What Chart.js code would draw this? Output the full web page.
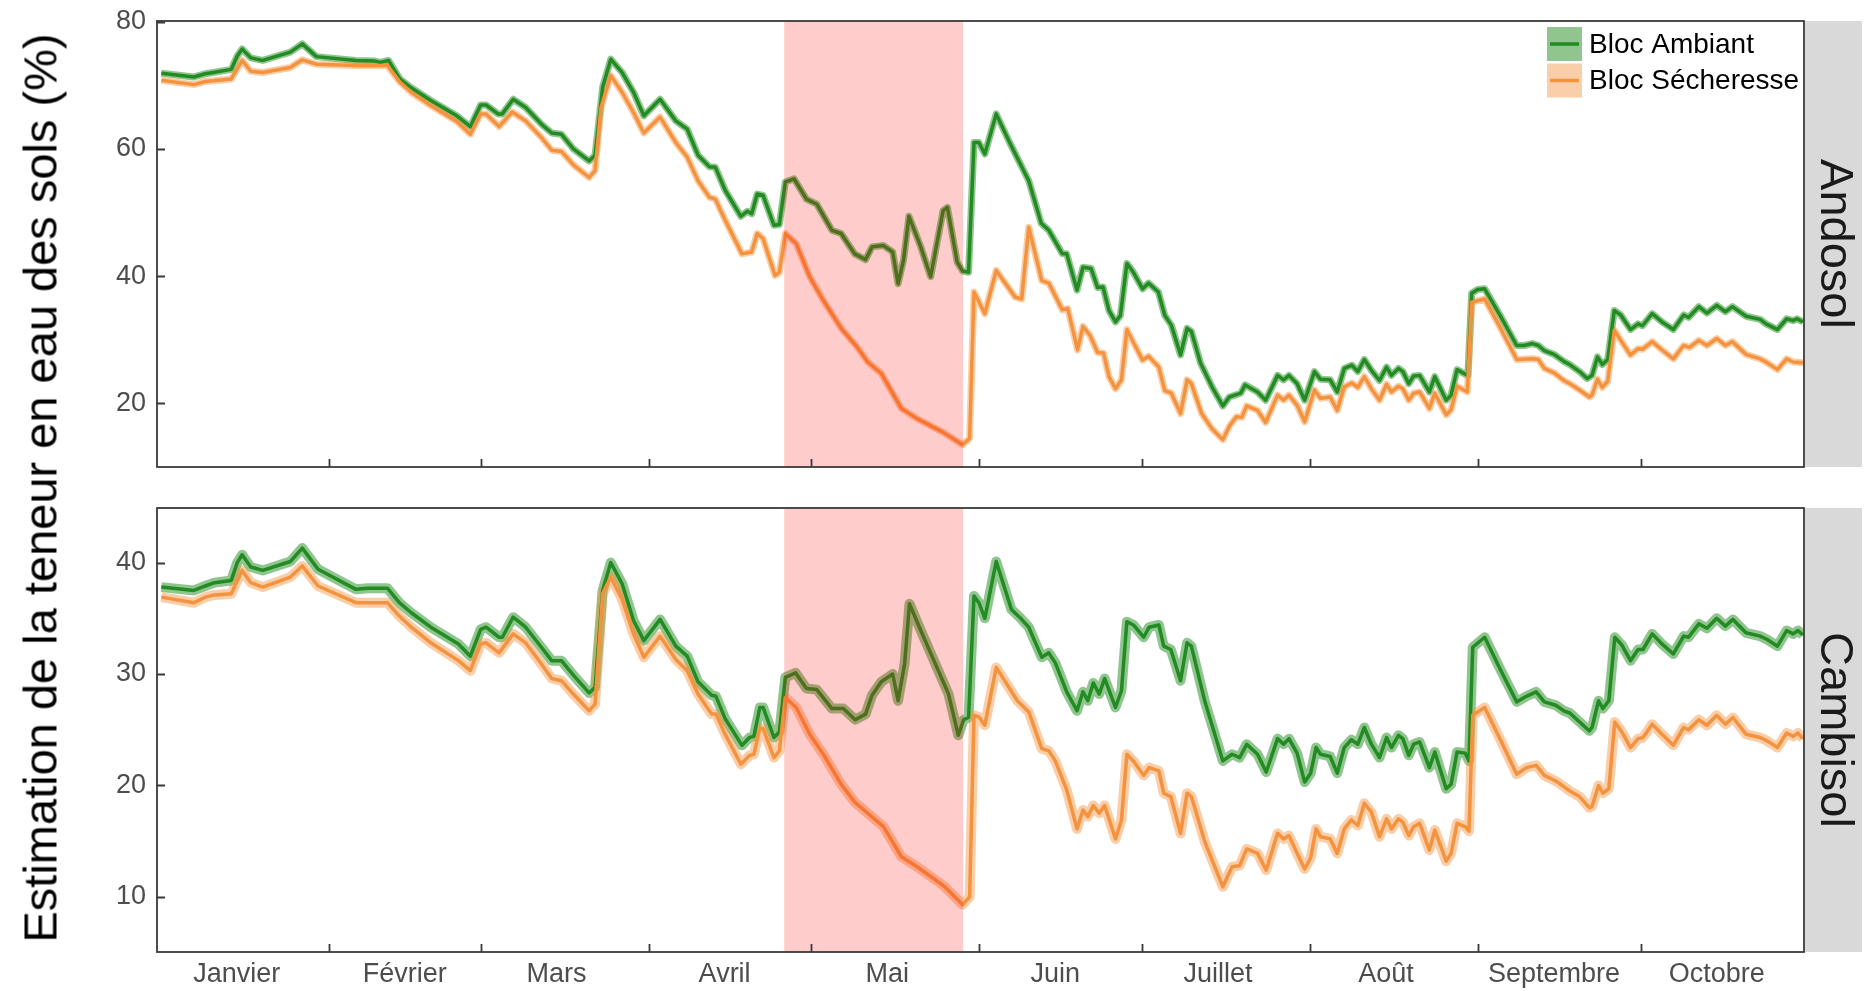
<!DOCTYPE html>
<html>
<head>
<meta charset="utf-8">
<script src="https://cdn.jsdelivr.net/npm/chart.js@4.4.0/dist/chart.umd.min.js"></script>
<style>
  html, body { margin: 0; padding: 0; background: #fff; }
  #wrap { position: relative; width: 1865px; height: 991px; overflow: hidden; }
  #cTop { position: absolute; left: 0; top: 0; }
  #cBot { position: absolute; left: 0; top: 480px; }
  #ytitle {
    position: absolute; left: 40px; top: 488px;
    transform: translate(-50%, -50%) rotate(-90deg);
    white-space: nowrap; line-height: 1;
    font: 47px 'Liberation Sans', Arial, sans-serif; color: #000;
  }
</style>
</head>
<body>
<div id="wrap">
  <canvas id="cTop" width="1865" height="480"></canvas>
  <canvas id="cBot" width="1865" height="511"></canvas>
  <div id="ytitle">Estimation de la teneur en eau des sols (%)</div>
</div>
<script>
// day of year (0 = 1er janvier), value in %
const monthNames = ['Janvier', 'Février', 'Mars', 'Avril', 'Mai', 'Juin', 'Juillet', 'Août', 'Septembre', 'Octobre'];
const monthStarts = [0, 31, 59, 90, 120, 151, 181, 212, 243, 273];
const droughtWindow = [115, 148];
const andosolTicks = [20, 40, 60, 80];
const cambisolTicks = [10, 20, 30, 40];

const andosolAmbiant = [
  [0.1,71.9],[6.1,71.3],[8.2,71.8],[9.7,72.0],[13,72.5],[14.1,74.6],[15,75.7],[16.6,74.3],[18.8,73.9],[23.9,75.2],
  [26.1,76.5],[28.7,74.5],[36,73.9],[39.5,73.8],[40.5,73.6],[42,73.9],[44.1,71.0],[46.2,69.6],[49.8,67.6],[54.6,65.2],
  [57.1,63.5],[59,66.9],[60,66.9],[62.2,65.5],[63,65.5],[65,67.8],[67.3,66.5],[70.2,63.9],[72.1,62.5],[73.9,62.3],
  [76.1,60.0],[79,58.1],[80.1,59.0],[81.5,69.7],[83,74.1],[85.1,72.0],[87.2,68.9],[89.1,65.2],[92.1,67.8],[95,64.4],
  [97.1,63.1],[99.1,59.0],[101.2,57.2],[102.3,57.1],[104.1,53.5],[107,49.4],[108.2,50.2],[109,49.8],[110,52.9],[111.1,52.7],
  [113.1,48.0],[114.1,48.1],[115.2,54.8],[116.8,55.3],[119.1,52.1],[121,51.3],[123.8,47.2],[125.5,46.7],[128,43.5],[130,42.6],
  [131.2,44.6],[133.3,44.8],[135,43.8],[136,38.8],[137,42.5],[138,49.4],[140.1,44.8],[142,39.9],[144.3,50.3],[145.1,50.8],
  [146.9,42.2],[147.9,40.8],[149,40.6],[150,61.0],[150.9,61.0],[152,59.2],[154.1,65.5],[156.4,61.3],[160.1,55.0],[162.4,48.3],
  [163.8,47.2],[166.3,43.5],[167.1,43.5],[169,37.8],[170.1,41.4],[171.6,41.2],[172.8,38.2],[173.8,38.3],[174.9,34.6],[176.1,32.8],
  [177,33.8],[178.2,42.0],[179.4,40.6],[181.1,38.0],[182.2,38.9],[184,37.5],[185.2,33.8],[186.4,32.3],[188.1,27.6],[189.3,31.8],
  [190.1,31.3],[191.8,26.3],[193.9,22.6],[195.9,19.6],[197.1,21.0],[199.2,21.6],[200,22.9],[202.3,21.8],[203.8,20.5],[206,24.4],
  [207.1,23.7],[208.1,24.4],[209.6,23.1],[211,20.5],[212.8,25.0],[213.9,23.8],[215.7,23.7],[217,21.8],[218.3,25.5],[219.7,26.0],
  [220.8,25.0],[222,26.9],[223.3,25.2],[224.8,23.6],[226.1,25.7],[227,24.4],[228.3,25.5],[229.1,25.0],[230.2,23.1],[231.1,24.3],
  [232.2,24.4],[234,21.8],[235,24.2],[237.1,20.5],[238,21.3],[239.1,25.3],[240.6,24.6],[241.1,24.4],[241.8,37.3],[242.9,37.9],
  [244.2,38.0],[247.2,33.6],[250.1,29.1],[251.5,29.1],[253,29.4],[254.1,29.1],[255.2,28.3],[257,27.7],[258.8,26.6],[259.9,26.1],
  [261.7,25.0],[263.1,23.9],[264,24.4],[265,27.3],[265.9,26.1],[266.9,26.9],[268.1,34.6],[269.3,33.9],[271.1,31.6],[272.5,32.5],
  [273.3,32.2],[275.1,34.1],[276.9,32.8],[279,31.6],[280.9,33.9],[281.8,33.5],[283.7,35.2],[285.2,34.2],[287,35.4],[288.6,34.4],
  [289.9,35.2],[292.4,33.7],[295,33.2],[296.1,32.5],[298.2,31.6],[299.9,33.3],[301.1,33.0],[301.8,33.3],[302.9,32.8]
];

const andosolSecheresse = [
  [0.1,70.8],[6.1,70.1],[8.2,70.6],[9.7,70.7],[13,71.0],[15,73.9],[16.6,72.2],[18.8,72.0],[23.9,72.8],[26.1,74.0],
  [28.7,73.3],[36,73.1],[41.8,73.1],[44.1,70.5],[46.2,68.9],[49.8,66.8],[54.6,64.3],[57.1,62.3],[59,65.5],[60,65.5],
  [62.4,63.5],[64.8,65.8],[67.3,64.4],[70.2,61.8],[72.1,59.8],[73.9,59.6],[76.1,57.5],[79,55.5],[80.1,56.6],[81.2,66.5],
  [83,71.5],[85.1,68.9],[87.2,65.7],[89.1,62.5],[92.1,65.0],[95,61.0],[97.1,58.7],[99.1,55.0],[101.2,52.4],[102.3,52.1],
  [104.1,48.8],[107.2,43.5],[109,43.8],[110,46.7],[111.1,45.9],[113.3,40.1],[114.1,40.6],[115.2,46.7],[117.2,45.1],[119.7,39.9],
  [122.2,36.2],[125.5,31.8],[128.4,28.9],[130.4,26.5],[132.9,24.7],[136.6,19.2],[139.5,17.6],[144.4,15.4],[147.9,13.5],[149.2,14.5],
  [150,37.5],[152,34.1],[154.1,40.9],[157.6,36.7],[158.8,36.4],[160.1,47.7],[162.5,39.3],[163.8,38.9],[166.3,34.7],[167.3,34.9],
  [169.1,28.4],[170.1,32.1],[171.4,30.7],[172.8,28.0],[173.9,27.9],[174.9,24.2],[176.1,22.3],[177.2,23.7],[178.2,31.6],[179.7,29.1],
  [181.1,26.8],[182.2,27.4],[184.1,25.7],[185.2,22.0],[186.4,21.6],[188.1,18.4],[189.3,23.7],[190.1,23.1],[192,18.4],[193.9,16.0],
  [195.9,14.3],[197.1,16.4],[198.4,17.9],[199.4,17.8],[200.3,19.6],[202.3,18.9],[203.8,17.0],[206,21.3],[207.1,20.5],[208.1,21.3],
  [209.6,19.7],[211,17.1],[212.8,22.1],[213.9,20.8],[215.7,21.0],[217,18.9],[218.3,22.6],[219.7,23.2],[220.8,22.5],[222,24.2],
  [223.3,22.3],[224.8,20.5],[226.1,23.0],[227,21.8],[228.3,22.7],[229.1,22.3],[230.2,20.5],[231.1,21.6],[232.2,21.8],[234,19.2],
  [235,21.6],[237.1,18.2],[238,19.0],[239.1,22.7],[241,21.8],[241.8,35.9],[244.2,36.4],[247.2,31.7],[250.1,26.9],[253,27.0],
  [254.1,26.9],[255.2,25.5],[257,24.8],[258.8,23.6],[259.9,23.1],[261.7,22.1],[263.5,21.0],[264,21.3],[265,23.8],[265.9,22.5],
  [266.9,23.5],[268.1,31.5],[269.3,29.9],[271.1,27.6],[272.5,28.6],[273.3,28.5],[275.1,29.7],[276.9,28.4],[279,27.0],[280.9,29.1],
  [282,28.8],[283.7,29.9],[285.2,29.1],[287,30.2],[288.6,29.1],[289.9,29.7],[292.4,27.7],[295,27.0],[296.1,26.5],[298.2,25.3],
  [299.9,27.0],[301.1,26.5],[302.9,26.4]
];

const cambisolAmbiant = [
  [0.1,37.8],[6.1,37.5],[8.2,37.9],[9.9,38.2],[13,38.4],[14.1,40.0],[15,40.7],[16.6,39.6],[18.8,39.3],[23.9,40.1],
  [26.1,41.3],[29,39.4],[36,37.6],[38.2,37.7],[41.8,37.7],[44,36.4],[46.2,35.5],[49.8,34.2],[54.9,32.7],[57.1,31.6],
  [59,34.0],[60,34.2],[62.4,33.3],[63,33.3],[65,35.1],[67.3,34.2],[70.2,32.4],[72.1,31.2],[73.9,31.2],[76.1,29.9],
  [79,28.3],[80.1,28.8],[81.5,37.5],[83,40.0],[85.1,38.1],[87.2,34.8],[89.1,33.0],[92.1,34.9],[95,32.5],[97.1,31.6],
  [99.1,29.3],[101.6,28.1],[102.4,28.0],[104.1,26.0],[107.2,23.6],[108.6,24.3],[109.4,24.4],[110.5,27.0],[111.1,27.0],[113.1,24.3],
  [114.1,24.8],[115.2,29.7],[117.1,30.1],[119.1,28.7],[121,28.6],[123.8,26.9],[125.9,26.9],[128.1,25.9],[130,26.4],[131.2,28.1],
  [132.9,29.3],[135,30.0],[136,27.6],[137.2,30.9],[138.1,36.3],[140.1,34.0],[141.8,32.1],[143.6,30.1],[145.3,28.2],[147.1,24.5],
  [148.1,25.9],[149,26.1],[150,37.0],[150.9,36.4],[152,35.0],[154.1,40.1],[156.9,35.8],[158.4,35.1],[160.1,34.2],[162.5,31.5],
  [163.8,31.9],[165,31.0],[167.1,28.4],[169,26.7],[170.1,28.4],[171,27.6],[172,29.2],[173.1,28.2],[174.1,29.6],[176.1,27.0],
  [177.2,28.5],[178.2,34.7],[179.4,34.4],[181.3,33.3],[182.3,34.2],[184.1,34.4],[185,32.5],[186.3,32.2],[188.1,29.4],[189.3,32.8],
  [190.1,32.5],[192.6,27.5],[195.9,22.2],[197.6,22.8],[199,22.5],[200.3,23.7],[202.3,22.8],[203.9,21.2],[206,24.2],[207.1,23.7],
  [208.1,24.2],[209.6,22.9],[211,20.3],[212.1,21.1],[213.1,23.4],[213.9,22.8],[215.7,22.6],[217,21.1],[218.3,23.4],[219.6,24.1],
  [220.8,23.7],[222,25.2],[223.3,23.7],[224.8,22.5],[226.1,24.3],[227,23.4],[228.3,24.5],[229.1,24.2],[230.2,22.7],[231.1,23.7],
  [232.2,23.9],[234,21.6],[235,23.0],[237.1,19.7],[238,20.1],[239.1,23.0],[240.6,22.9],[241.3,22.2],[242,32.4],[244.2,33.3],
  [247.2,30.3],[250.1,27.5],[251.9,28.0],[253.7,28.4],[255.2,27.5],[257.3,27.2],[258.8,26.7],[259.9,26.5],[261.7,25.7],[263.5,24.9],
  [264,25.2],[265.2,27.6],[266,26.9],[267.1,27.6],[268.2,33.3],[269.5,32.6],[271.1,31.2],[272.5,32.2],[273.4,32.2],[275.1,33.6],
  [276.9,32.7],[279,31.8],[280.9,33.4],[281.8,33.3],[283.7,34.5],[285.2,34.1],[287,35.0],[288.6,34.3],[290,34.9],[292.4,33.7],
  [295,33.4],[296.3,33.1],[298.2,32.5],[299.9,33.9],[301.1,33.6],[302,33.9],[302.9,33.5]
];

const cambisolSecheresse = [
  [0.1,36.9],[6.1,36.4],[8.2,36.9],[9.9,37.1],[13,37.2],[15,39.3],[16.6,38.2],[18.8,37.8],[23.9,38.7],[26.1,39.7],
  [29,37.9],[36,36.4],[38.2,36.4],[41.8,36.4],[44,35.2],[46.2,34.2],[49.8,32.8],[54.9,31.2],[57.1,30.3],[59,32.7],
  [60,32.8],[62.4,31.9],[65,33.6],[67.3,32.8],[70.2,30.9],[72.1,29.6],[73.9,29.4],[76.1,28.2],[79,26.7],[80.1,27.3],
  [81.5,37.2],[83,38.7],[85.1,36.7],[87.2,33.6],[89.1,31.5],[92.1,33.4],[95,31.3],[97.1,30.3],[99.1,28.2],[101.6,26.4],
  [102.4,26.4],[104.1,24.6],[107,21.9],[108.6,22.7],[109.4,22.8],[110.5,25.1],[111.1,25.1],[113.1,22.5],[114.1,23.1],[115.2,27.9],
  [117.2,27.0],[119.7,24.6],[122.2,22.8],[125.5,20.1],[128,18.5],[130.4,17.5],[133.3,16.3],[136.6,13.6],[139.5,12.7],[144.4,11.0],
  [147.9,9.3],[149.2,10.0],[150,26.3],[151,26.1],[152,25.4],[154.1,30.6],[158,27.6],[160.1,26.6],[162.5,23.3],[163.8,23.1],
  [165,22.2],[167.1,19.6],[169,16.1],[170.1,17.8],[171,17.2],[172,18.2],[173.1,17.5],[174.1,18.2],[176.1,15.2],[177.2,16.9],
  [178.2,22.8],[179.4,22.2],[181.3,20.9],[182.3,21.6],[184.1,21.3],[185,19.3],[186.3,19.0],[188.1,15.7],[189.3,19.3],[190.1,19.0],
  [192.6,14.9],[195.9,10.9],[197.6,12.7],[199,12.8],[200.3,14.3],[202.3,13.9],[203.9,12.4],[206,15.7],[207.1,15.2],[208.1,15.5],
  [209.6,13.9],[211,12.5],[212.1,13.5],[213.1,16.1],[213.9,15.4],[215.7,15.2],[217,13.9],[218.3,16.1],[219.6,16.9],[220.8,16.4],
  [222,18.4],[223.3,17.6],[224.8,15.4],[226.1,17.0],[227,16.1],[228.3,17.0],[229.1,16.7],[230.2,15.5],[231.1,16.3],[232.2,16.6],
  [234,14.2],[235,16.0],[237.1,13.2],[238,13.9],[239.1,16.6],[240.6,16.3],[241.3,15.9],[242,26.3],[244.2,27.0],[247.2,24.0],
  [250.1,21.0],[251.9,21.6],[253.7,21.8],[255.2,20.9],[257.3,20.4],[258.8,19.9],[259.9,19.5],[261.7,19.0],[263.5,18.0],[264,18.1],
  [265.2,20.0],[266,19.3],[267.1,19.7],[268.2,25.7],[269.5,24.8],[271.1,23.4],[272.5,24.2],[273.4,24.3],[275.1,25.5],[276.9,24.6],
  [279,23.6],[280.9,25.2],[281.8,25.0],[283.7,25.9],[285.2,25.4],[287,26.3],[288.6,25.5],[290,26.1],[292.4,24.6],[295,24.3],
  [296.3,24.0],[298.2,23.4],[299.9,24.7],[301.1,24.4],[302,24.7],[302.9,24.2]
];

const GREEN = '#228B22';
const GREEN_BAND = 'rgba(34,139,34,0.5)';
const ORANGE = '#F5923E';
const ORANGE_BAND = 'rgba(245,146,62,0.45)';
const FONT = "'Liberation Sans', Arial, sans-serif";

Chart.defaults.font.family = FONT;
Chart.defaults.animation = false;

const toXY = (arr) => arr.map(p => ({ x: p[0], y: p[1] }));

// draws the drought window, inward ticks, panel frame, strip and legend
const panelDecor = {
  id: 'panelDecor',
  afterDatasetsDraw(chart, args, opts) {
    const { ctx, chartArea: a } = chart;
    const x = chart.scales.x, y = chart.scales.y;
    ctx.save();

    const x0 = x.getPixelForValue(droughtWindow[0]);
    const x1 = x.getPixelForValue(droughtWindow[1]);
    ctx.fillStyle = 'rgba(255,0,0,0.2)';
    ctx.fillRect(x0, a.top, x1 - x0, a.bottom - a.top);

    ctx.strokeStyle = '#3a3a3a';
    ctx.lineWidth = 1.8;
    ctx.beginPath();
    monthStarts.slice(1).forEach(d => {
      const px = Math.round(x.getPixelForValue(d)) + 0.5;
      ctx.moveTo(px, a.bottom);
      ctx.lineTo(px, a.bottom - 8);
    });
    opts.yTicks.forEach(v => {
      const py = Math.round(y.getPixelForValue(v)) + 0.5;
      ctx.moveTo(a.left, py);
      ctx.lineTo(a.left + 8, py);
    });
    ctx.stroke();
    ctx.strokeRect(a.left, a.top, a.right - a.left, a.bottom - a.top);

    // facet strip
    ctx.fillStyle = '#D9D9D9';
    ctx.fillRect(a.right + 1, a.top, 57, a.bottom - a.top);
    ctx.fillStyle = '#1A1A1A';
    ctx.font = '47px ' + FONT;
    ctx.textAlign = 'center';
    ctx.textBaseline = 'middle';
    ctx.translate(a.right + 30, (a.top + a.bottom) / 2);
    ctx.rotate(Math.PI / 2);
    ctx.fillText(opts.strip, 0, 0);
    ctx.setTransform(1, 0, 0, 1, 0, 0);

    if (opts.legend) {
      const items = [
        { label: 'Bloc Ambiant', line: GREEN, band: GREEN_BAND },
        { label: 'Bloc Sécheresse', line: ORANGE, band: ORANGE_BAND }
      ];
      const kx = a.right - 257, ky = a.top + 6;
      items.forEach((it, i) => {
        const top = ky + i * 36.5;
        ctx.fillStyle = it.band;
        ctx.fillRect(kx, top, 35, 34);
        ctx.strokeStyle = it.line;
        ctx.lineWidth = 3.5;
        ctx.beginPath();
        ctx.moveTo(kx + 3, top + 17);
        ctx.lineTo(kx + 32, top + 17);
        ctx.stroke();
        ctx.fillStyle = '#000';
        ctx.font = '28px ' + FONT;
        ctx.textAlign = 'left';
        ctx.textBaseline = 'middle';
        ctx.fillText(it.label, kx + 42, top + 18);
      });
    }
    ctx.restore();
  }
};

function makePanel(canvasId, amb, sec, cfg) {
  const bandW = cfg.bandWidth;
  return new Chart(document.getElementById(canvasId), {
    type: 'line',
    data: {
      datasets: [
        { data: toXY(sec), borderColor: ORANGE, borderWidth: 3.5, pointRadius: 0, order: 1 },
        { data: toXY(amb), borderColor: GREEN, borderWidth: 3.5, pointRadius: 0, order: 2 },
        { data: toXY(sec), borderColor: ORANGE_BAND, borderWidth: bandW, pointRadius: 0, order: 3 },
        { data: toXY(amb), borderColor: GREEN_BAND, borderWidth: bandW, pointRadius: 0, order: 4 }
      ]
    },
    options: {
      responsive: false,
      devicePixelRatio: 1,
      events: [],
      elements: { line: { tension: 0, borderJoinStyle: 'round', fill: false } },
      layout: { padding: { top: cfg.padTop, right: 61, left: 0, bottom: 0 } },
      scales: {
        x: {
          type: 'linear',
          min: -0.7,
          max: 303.1,
          grid: { display: false, drawTicks: false },
          border: { display: false },
          afterBuildTicks: (scale) => { scale.ticks = monthStarts.map(d => ({ value: d + 14 })); },
          afterFit: (scale) => {
            scale.height = cfg.xHeight;
            scale.paddingLeft = 0;
            scale.paddingRight = 0;
          },
          ticks: {
            display: cfg.showMonths,
            autoSkip: false,
            maxRotation: 0,
            minRotation: 0,
            padding: 6,
            color: '#4D4D4D',
            font: { size: 27 },
            callback: (v, i) => monthNames[i]
          }
        },
        y: {
          type: 'linear',
          min: cfg.yMin,
          max: cfg.yMax,
          grid: { display: false, drawTicks: false },
          border: { display: false },
          afterBuildTicks: (scale) => { scale.ticks = cfg.yTicks.map(v => ({ value: v })); },
          afterFit: (scale) => {
            scale.width = 157;
            scale.paddingTop = 0;
            scale.paddingBottom = 0;
          },
          ticks: {
            padding: 11,
            color: '#4D4D4D',
            font: { size: 27 }
          }
        }
      },
      plugins: {
        legend: { display: false },
        tooltip: { enabled: false },
        panelDecor: { yTicks: cfg.yTicks, strip: cfg.strip, legend: cfg.legend }
      }
    },
    plugins: [panelDecor]
  });
}

makePanel('cTop', andosolAmbiant, andosolSecheresse, {
  padTop: 21, xHeight: 13, showMonths: false, yMin: 10, yMax: 80.1,
  yTicks: andosolTicks, strip: 'Andosol', legend: true, bandWidth: 7
});

makePanel('cBot', cambisolAmbiant, cambisolSecheresse, {
  padTop: 28, xHeight: 39, showMonths: true, yMin: 5.05, yMax: 44.9,
  yTicks: cambisolTicks, strip: 'Cambisol', legend: false, bandWidth: 10
});
</script>
</body>
</html>
